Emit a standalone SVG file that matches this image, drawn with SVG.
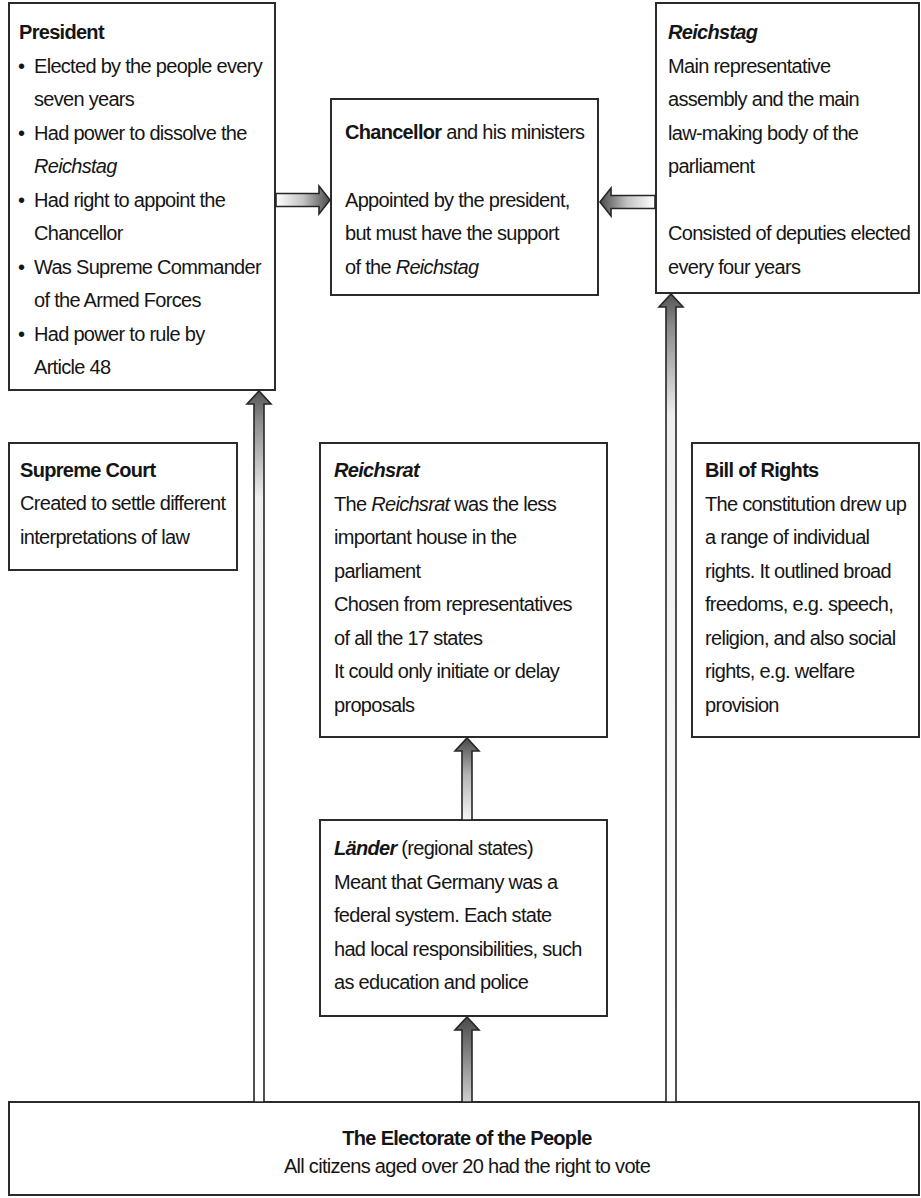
<svg xmlns="http://www.w3.org/2000/svg" width="921" height="1198" viewBox="0 0 921 1198">
  <style>
    .box{fill:#ffffff;stroke:#2b2b2b;stroke-width:2}
    .t{font-family:"Liberation Sans",Arial,Helvetica,sans-serif;font-size:20px;fill:#151515;letter-spacing:-0.7px}
    .b{font-weight:bold}
    .i{font-style:italic}
    .arrow{stroke:#262626;stroke-width:1.6;stroke-linejoin:miter}
  </style>
  <defs>
    <!-- long vertical arrows: pale shaft darkening just below the head -->
    <linearGradient id="gLong" x1="0" y1="1" x2="0" y2="0">
      <stop offset="0" stop-color="#ffffff"/>
      <stop offset="0.85" stop-color="#eeeeee"/>
      <stop offset="0.96" stop-color="#8a8a8a"/>
      <stop offset="1" stop-color="#555555"/>
    </linearGradient>
    <!-- short vertical arrows -->
    <linearGradient id="gShort" x1="0" y1="1" x2="0" y2="0">
      <stop offset="0" stop-color="#f6f6f6"/>
      <stop offset="0.55" stop-color="#b5b5b5"/>
      <stop offset="1" stop-color="#4a4a4a"/>
    </linearGradient>
    <linearGradient id="gShortDark" x1="0" y1="1" x2="0" y2="0">
      <stop offset="0" stop-color="#cfcfcf"/>
      <stop offset="0.5" stop-color="#8c8c8c"/>
      <stop offset="1" stop-color="#4a4a4a"/>
    </linearGradient>
    <linearGradient id="gRight" x1="0" y1="0" x2="1" y2="0">
      <stop offset="0" stop-color="#ffffff"/>
      <stop offset="0.5" stop-color="#c4c4c4"/>
      <stop offset="1" stop-color="#4a4a4a"/>
    </linearGradient>
    <linearGradient id="gLeft" x1="1" y1="0" x2="0" y2="0">
      <stop offset="0" stop-color="#ffffff"/>
      <stop offset="0.5" stop-color="#c4c4c4"/>
      <stop offset="1" stop-color="#4a4a4a"/>
    </linearGradient>
  </defs>

  <rect width="921" height="1198" fill="#ffffff"/>

  <g id="president">
    <rect class="box" x="9" y="3" width="266" height="387"/>
    <text class="t b" x="19" y="39">President</text>
    <text class="t" x="18" y="73">•</text>
    <text class="t" x="34" y="73">Elected by the people every</text>
    <text class="t" x="34" y="106">seven years</text>
    <text class="t" x="18" y="140">•</text>
    <text class="t" x="34" y="140">Had power to dissolve the</text>
    <text class="t i" x="34" y="173">Reichstag</text>
    <text class="t" x="18" y="207">•</text>
    <text class="t" x="34" y="207">Had right to appoint the</text>
    <text class="t" x="34" y="240">Chancellor</text>
    <text class="t" x="18" y="274">•</text>
    <text class="t" x="34" y="274">Was Supreme Commander</text>
    <text class="t" x="34" y="307">of the Armed Forces</text>
    <text class="t" x="18" y="341">•</text>
    <text class="t" x="34" y="341">Had power to rule by</text>
    <text class="t" x="34" y="374">Article 48</text>
  </g>

  <g id="chancellor">
    <rect class="box" x="331" y="99" width="267" height="196"/>
    <text class="t" x="345" y="139"><tspan class="b">Chancellor</tspan> and his ministers</text>
    <text class="t" x="345" y="207">Appointed by the president,</text>
    <text class="t" x="345" y="240">but must have the support</text>
    <text class="t" x="345" y="274">of the <tspan class="i">Reichstag</tspan></text>
  </g>

  <g id="reichstag">
    <rect class="box" x="656" y="3" width="263" height="290"/>
    <text class="t b i" x="668" y="39">Reichstag</text>
    <text class="t" x="668" y="73">Main representative</text>
    <text class="t" x="668" y="106">assembly and the main</text>
    <text class="t" x="668" y="140">law-making body of the</text>
    <text class="t" x="668" y="173">parliament</text>
    <text class="t" x="668" y="240">Consisted of deputies elected</text>
    <text class="t" x="668" y="274">every four years</text>
  </g>

  <g id="supreme-court">
    <rect class="box" x="9" y="443" width="228" height="127"/>
    <text class="t b" x="20" y="477">Supreme Court</text>
    <text class="t" x="20" y="510">Created to settle different</text>
    <text class="t" x="20" y="544">interpretations of law</text>
  </g>

  <g id="reichsrat">
    <rect class="box" x="320" y="443" width="287" height="294"/>
    <text class="t b i" x="334" y="477">Reichsrat</text>
    <text class="t" x="334" y="511">The <tspan class="i">Reichsrat</tspan> was the less</text>
    <text class="t" x="334" y="544">important house in the</text>
    <text class="t" x="334" y="578">parliament</text>
    <text class="t" x="334" y="611">Chosen from representatives</text>
    <text class="t" x="334" y="645">of all the 17 states</text>
    <text class="t" x="334" y="678">It could only initiate or delay</text>
    <text class="t" x="334" y="712">proposals</text>
  </g>

  <g id="bill-of-rights">
    <rect class="box" x="692" y="443" width="227" height="294"/>
    <text class="t b" x="705" y="477">Bill of Rights</text>
    <text class="t" x="705" y="511">The constitution drew up</text>
    <text class="t" x="705" y="544">a range of individual</text>
    <text class="t" x="705" y="578">rights. It outlined broad</text>
    <text class="t" x="705" y="611">freedoms, e.g. speech,</text>
    <text class="t" x="705" y="645">religion, and also social</text>
    <text class="t" x="705" y="678">rights, e.g. welfare</text>
    <text class="t" x="705" y="712">provision</text>
  </g>

  <g id="laender">
    <rect class="box" x="320" y="820" width="287" height="196"/>
    <text class="t" x="334" y="855"><tspan class="b i">Länder</tspan> (regional states)</text>
    <text class="t" x="334" y="889">Meant that Germany was a</text>
    <text class="t" x="334" y="922">federal system. Each state</text>
    <text class="t" x="334" y="956">had local responsibilities, such</text>
    <text class="t" x="334" y="989">as education and police</text>
  </g>

  <g id="electorate">
    <rect class="box" x="9" y="1102" width="910" height="93"/>
    <text class="t b" x="467" y="1145" text-anchor="middle">The Electorate of the People</text>
    <text class="t" x="467" y="1173" text-anchor="middle">All citizens aged over 20 had the right to vote</text>
  </g>

  <g id="connectors">
    <!-- electorate to president -->
    <polygon class="arrow" fill="url(#gLong)" points="254,1102 254,404 247,404 259,391 271,404 264,404 264,1102"/>
    <!-- electorate to reichstag -->
    <polygon class="arrow" fill="url(#gLong)" points="666,1102 666,307 659,307 671,294 683,307 676,307 676,1102"/>
    <!-- electorate to laender -->
    <polygon class="arrow" fill="url(#gShortDark)" points="462,1102 462,1030 455,1030 467,1017 479,1030 472,1030 472,1102"/>
    <!-- laender to reichsrat -->
    <polygon class="arrow" fill="url(#gShort)" points="462,820 462,751 455,751 467,738 479,751 472,751 472,820"/>
    <!-- president to chancellor -->
    <polygon class="arrow" fill="url(#gRight)" points="276,193.5 319,193.5 319,186 330,200 319,214 319,206.5 276,206.5"/>
    <!-- reichstag to chancellor -->
    <polygon class="arrow" fill="url(#gLeft)" points="655,195.5 611,195.5 611,188 600,202 611,216 611,208.5 655,208.5"/>
  </g>
</svg>
